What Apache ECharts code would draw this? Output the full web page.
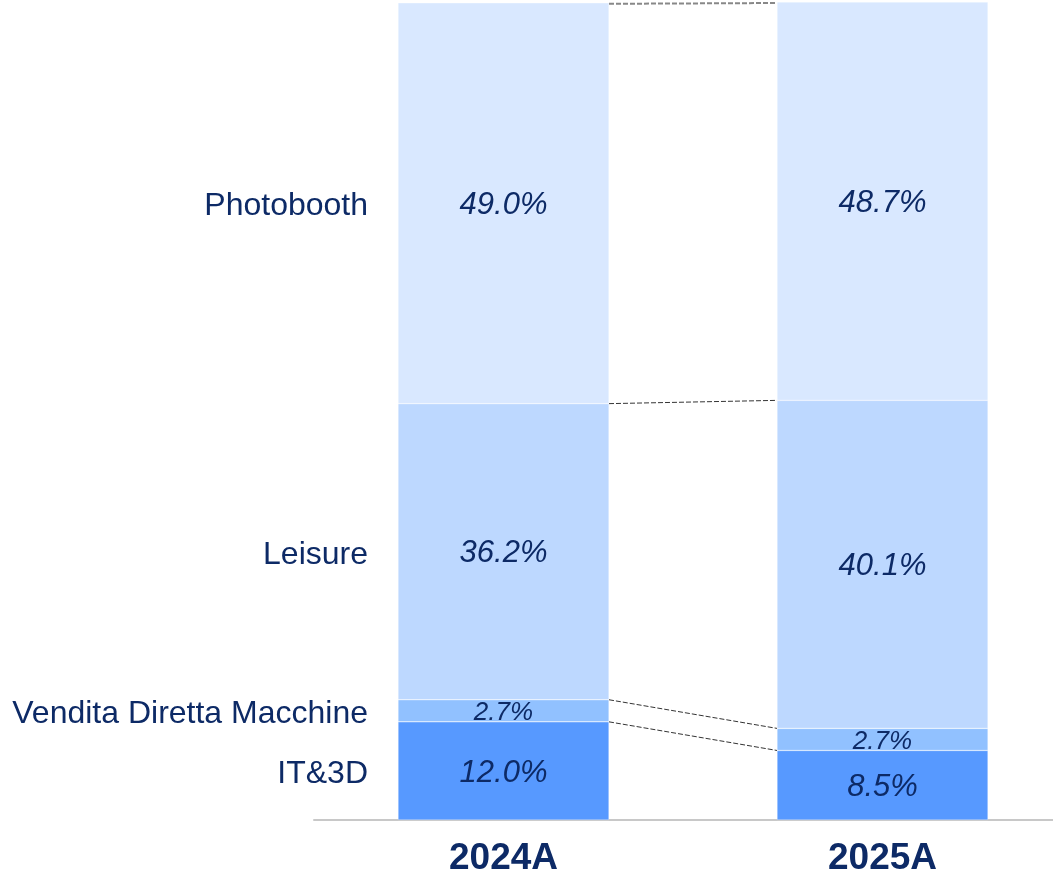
<!DOCTYPE html>
<html>
<head>
<meta charset="utf-8">
<script src="https://cdn.jsdelivr.net/npm/echarts@6/dist/echarts.min.js"></script>
<style>
  html, body { margin: 0; padding: 0; background: #fff; overflow: hidden; }
  /* the right bar's band runs past the window edge, as in the original crop */
  #chart { width: 1072px; height: 874px; }
</style>
</head>
<body>
<div id="chart"></div>
<script>
var years = ['2024A', '2025A'];
// bottom to top
var segments = ['IT&3D', 'Vendita Diretta Macchine', 'Leisure', 'Photobooth'];
var itData = [12.0, 8.5];
var venditaData = [2.7, 2.7];
var leisureData = [36.2, 40.1];
var photoData = [49.0, 48.7];

var colors = ['#5799FF', '#91C1FF', '#BDD8FF', '#D9E8FF'];
var navy = '#0D2A66';
var font = 'Liberation Sans, Arial, sans-serif';
var barW = 211;

var all = [itData, venditaData, leisureData, photoData];

// cumulative boundaries per year
function cumul(idx) {
    var out = [], s = 0;
    for (var k = 0; k < all.length; k++) {
        s += all[k][idx];
        out.push(s);
    }
    return out;
}
var c0 = cumul(0), c1 = cumul(1);
var connData = [];
for (var k = 0; k < c0.length; k++) {
    connData.push([c0[k], c1[k], k == c0.length - 1 ? 1 : 0]);
}
var nameData = [];
for (var k = 0; k < segments.length; k++) {
    nameData.push([segments[k], c0[k] - all[k][0] / 2]);
}

var barSeries = all.map(function (d, k) {
    var small = k == 1;
    return {
        name: segments[k],
        type: 'bar',
        stack: 'mix',
        barWidth: barW,
        data: d,
        itemStyle: { color: colors[k], borderColor: 'rgba(255,255,255,0.6)', borderWidth: 0.5 },
        label: {
            show: true,
            position: 'inside',
            offset: [0, 2],
            color: navy,
            fontStyle: 'italic',
            fontFamily: font,
            fontSize: small ? 26 : 31,
            formatter: function (p) { return p.value.toFixed(1) + '%'; }
        },
        emphasis: { disabled: true },
        z: 2
    };
});

var chart = echarts.init(document.getElementById('chart'));
chart.setOption({
    animation: false,
    grid: { left: 314, right: 0, top: 2, bottom: 54, outerBoundsMode: 'none', containLabel: false },
    xAxis: {
        type: 'category',
        data: years,
        axisTick: { show: false },
        axisLine: { lineStyle: { color: '#C8C8C8', width: 2 } },
        axisLabel: {
            color: navy,
            fontWeight: 'bold',
            fontSize: 37,
            fontFamily: font,
            margin: 20
        }
    },
    yAxis: {
        type: 'value',
        min: 0,
        max: 100,
        show: false,
        splitLine: { show: false }
    },
    series: barSeries.concat([{
        type: 'custom',
        name: 'connectors',
        data: connData,
        silent: true,
        z: 3,
        renderItem: function (params, api) {
            var p0 = api.coord([0, api.value(0)]);
            var p1 = api.coord([1, api.value(1)]);
            var top = api.value(2) == 1;
            return {
                type: 'line',
                shape: { x1: p0[0] + barW / 2, y1: p0[1] + (top ? 1 : 0), x2: p1[0] - barW / 2, y2: p1[1] + (top ? 1 : 0) },
                style: { stroke: top ? '#888' : '#333', lineWidth: top ? 2 : 1, lineDash: [5, 2] }
            };
        }
    }, {
        type: 'custom',
        name: 'segment names',
        data: nameData,
        silent: true,
        encode: { x: -1, y: 1 },
        renderItem: function (params, api) {
            var p = api.coord([0, api.value(1)]);
            return {
                type: 'text',
                style: {
                    x: p[0] - barW / 2 - 30,
                    y: p[1] + 3,
                    text: nameData[params.dataIndex][0],
                    align: 'right',
                    verticalAlign: 'middle',
                    fill: navy,
                    fontSize: 32,
                    fontFamily: font
                }
            };
        }
    }])
});
</script>
</body>
</html>
